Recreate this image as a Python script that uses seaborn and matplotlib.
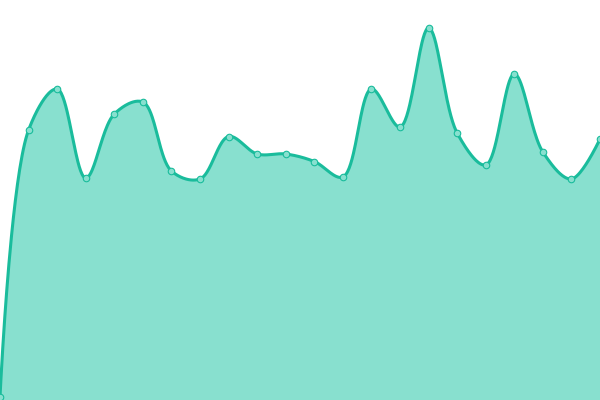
import numpy as np
import pandas as pd
import matplotlib
matplotlib.use('Agg')
import matplotlib.pyplot as plt
import seaborn as sns

# values (0 = bottom edge, 400 = top edge)
idx = list(range(22))
values = [3, 270, 311, 222, 286, 298, 229, 221, 263.5, 246, 246,
          238.5, 223, 311, 273, 372, 267, 235, 326, 248, 221, 261]

LINE = '#1abc9c'
FILL = '#88e0cf'


def catmull_rom(x, y, alpha=0.5, n=40):
    # centripetal catmull-rom as bezier pieces, ends clamped (same idea as d3.curveCatmullRom)
    P = np.column_stack([x, y]).astype(float)
    k = len(P)
    t = np.linspace(0, 1, n, endpoint=False)[:, None]
    out = []
    for i in range(k - 1):
        p1, p2 = P[i], P[i + 1]
        p0 = P[i - 1] if i > 0 else None
        p3 = P[i + 2] if i + 2 < k else None
        l12 = np.linalg.norm(p2 - p1)
        l12a, l12_2a = l12 ** alpha, l12 ** (2 * alpha)
        c1, c2 = p1.copy(), p2.copy()
        if p0 is not None:
            l01 = np.linalg.norm(p1 - p0)
            l01a, l01_2a = l01 ** alpha, l01 ** (2 * alpha)
            a = 2 * l01_2a + 3 * l01a * l12a + l12_2a
            m = 3 * l01a * (l01a + l12a)
            c1 = (p1 * a - p0 * l12_2a + p2 * l01_2a) / m
        if p3 is not None:
            l23 = np.linalg.norm(p3 - p2)
            l23a, l23_2a = l23 ** alpha, l23 ** (2 * alpha)
            b = 2 * l23_2a + 3 * l23a * l12a + l12_2a
            m = 3 * l23a * (l23a + l12a)
            c2 = (p2 * b + p1 * l23_2a - p3 * l12_2a) / m
        seg = ((1 - t) ** 3) * p1 + 3 * ((1 - t) ** 2) * t * c1 \
            + 3 * (1 - t) * t ** 2 * c2 + t ** 3 * p2
        out.append(seg)
    out.append(P[-1:])
    return np.vstack(out)


# work in pixel space so the spline spacing matches the picture
W, H = 600, 400
px = np.array(idx) * W / (len(idx) - 1)
curve = catmull_rom(px, values)
sx = curve[:, 0] * (len(idx) - 1) / W
sy = curve[:, 1]
df = pd.DataFrame({'x': idx, 'v': values})

sns.set_style('white')
fig = plt.figure(figsize=(6, 4), dpi=100)
ax = fig.add_axes([0, 0, 1, 1])
ax.fill_between(sx, 0, sy, color=FILL, linewidth=0)
sns.lineplot(x=sx, y=sy, color=LINE, linewidth=2.2, sort=False, ax=ax)
sns.scatterplot(data=df, x='x', y='v', s=22, color=FILL, edgecolor=LINE,
                linewidth=0.8, zorder=5, ax=ax, clip_on=False)

ax.set_xlim(0, 21)
ax.set_ylim(0, 400)
ax.axis('off')

plt.savefig('out.png', dpi=100)
